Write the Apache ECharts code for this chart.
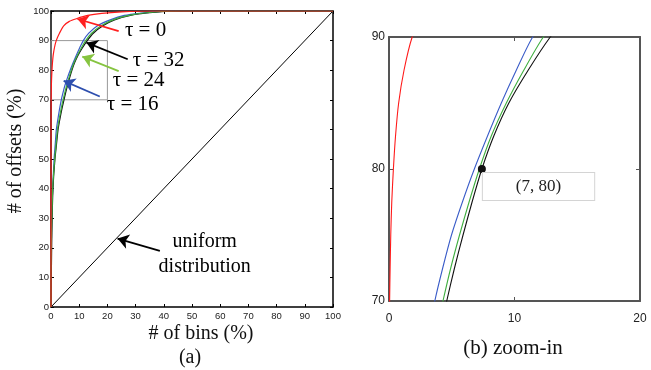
<!DOCTYPE html>
<html><head><meta charset="utf-8">
<script src="https://cdn.jsdelivr.net/npm/echarts@6/dist/echarts.min.js"></script>
<style>html,body{margin:0;padding:0;background:#fff}#c{width:651px;height:370px}</style>
</head><body><div id="c"></div>
<script>
// CDF curves: [bins %, offsets %]
var tau0 = [[0,0],[0,10],[0.02,60],[0.03,65],[0.05,70],[0.09,72.5],[0.14,75],[0.22,77.5],[0.35,80],[0.52,82.5],[0.77,85],[1.2,87.5],[1.85,90],[3.0,92.5],[4.5,95],[6.5,96.5],[9,97.4],[13,98.5],[18,99.2],[25,99.7],[35,100],[100,100]];
var tau16 = [[0,0],[0.1,20],[0.4,35],[0.7,42],[1.1,50],[1.5,55],[1.9,60],[2.28,62.5],[2.7,65],[3.15,67.5],[3.65,70],[4.28,72.5],[4.98,75],[5.85,77.5],[6.8,80],[7.85,82.5],[8.95,85],[10.15,87.5],[11.45,90],[13.4,92.5],[16.5,95],[21,97],[26,98.5],[32,99.3],[38,99.8],[43,100],[100,100]];
var tau24 = [[0,0],[0,10],[0.2,25],[0.6,40],[1.3,50],[1.8,55],[2.3,60],[2.72,62.5],[3.2,65],[3.72,67.5],[4.3,70],[4.92,72.5],[5.62,75],[6.38,77.5],[7.2,80],[8.15,82.5],[9.35,85],[10.75,87.5],[12.3,90],[14.4,92.5],[17.8,95],[22,97],[28,98.6],[35,99.5],[46,100],[100,100]];
var tau32 = [[0,0],[0.3,25],[0.7,40],[1.4,50],[1.95,55],[2.5,60],[2.95,62.5],[3.45,65],[4.0,67.5],[4.6,70],[5.22,72.5],[5.9,75],[6.62,77.5],[7.4,80],[8.35,82.5],[9.55,85],[11.1,87.5],[12.85,90],[15,92.5],[18.4,95],[22.5,97],[28.5,98.6],[36,99.5],[47,100],[100,100]];
var uniform = [[0,0],[100,100]];
var zoomBox = [[0,70],[20,70],[20,90],[0,90],[0,70]];
var highlightPoint = [7.4, 80];
var highlightText = '(7, 80)';
var xTicksA = [0,100,10], yTicksA = [0,100,10];
var xTicksB = [0,20,10], yTicksB = [70,90,10];

var colors = {red:'#ff1a1a', blue:'#3a5cc8', green:'#3fae3f', black:'#111', arrowGreen:'#86c440'};

// annotation arrows (data coords, tail -> tip)
var arrows = [
  {from:[24.0,93.2], to:[9.4,97.3], color:'#ff2020'},
  {from:[27.2,83.7], to:[12.6,89.3], color:'#000'},
  {from:[24.0,79.7], to:[11.1,84.6], color:colors.arrowGreen},
  {from:[17.3,71.1], to:[4.5,76.4], color:'#2e4fae'},
  {from:[38.6,19.0], to:[23.6,23.1], color:'#000'}
];
var notes = [
  {pos:[26.2,93.4], text:'τ = 0', align:'left'},
  {pos:[29.0,83.4], text:'τ = 32', align:'left'},
  {pos:[21.9,76.6], text:'τ = 24', align:'left'},
  {pos:[19.8,68.4], text:'τ = 16', align:'left'},
  {pos:[54.5,22.0], text:'uniform', align:'center'},
  {pos:[54.5,13.6], text:'distribution', align:'center'}
];

var serif = '"Liberation Serif", "Times New Roman", serif';
var sans = '"Liberation Sans", Arial, sans-serif';

function mkX(grid, t, pos, labels, lc, lw, fs, margin, tl) {
  return {type:'value', gridIndex:grid, position:pos, min:t[0], max:t[1], interval:t[2],
    axisLine:{show:true, onZero:false, lineStyle:{color:lc, width:lw}},
    axisTick:{show:true, inside:true, length:tl, lineStyle:{color:lc, width:1}},
    axisLabel:{show:labels, fontFamily:sans, fontSize:fs, color:'#222', margin:margin},
    splitLine:{show:false}};
}
var xAxes = [
  mkX(0,xTicksA,'bottom',true,'#000',1.5,9.5,4,3),
  mkX(0,xTicksA,'top',false,'#000',1.5,9.5,4,3),
  mkX(1,xTicksB,'bottom',true,'#555',2,12,12,4),
  mkX(1,xTicksB,'top',false,'#555',2,12,12,4)
];
var yAxes = [
  mkX(0,yTicksA,'left',true,'#000',1.5,9.5,2,3),
  mkX(0,yTicksA,'right',false,'#000',1.5,9.5,2,3),
  mkX(1,yTicksB,'left',true,'#555',2,12,4,4),
  mkX(1,yTicksB,'right',false,'#555',2,12,4,4)
];

function curve(name, data, color, g, w) {
  return {type:'line', name:name, data:data, xAxisIndex:g*2, yAxisIndex:g*2, showSymbol:false, symbol:'none',
    smooth:0.25, clip:true, lineStyle:{color:color, width:w}, silent:true, animation:false, z:3};
}

var series = [
  {type:'line', data:uniform, xAxisIndex:0, yAxisIndex:0, symbol:'none', lineStyle:{color:'#000', width:1}, z:3, animation:false},
  {type:'line', data:zoomBox, xAxisIndex:0, yAxisIndex:0, symbol:'none', lineStyle:{color:'#999', width:1}, z:2, animation:false},
  curve('τ=16', tau16, colors.blue, 0, 1.2),
  curve('τ=32', tau32, colors.black, 0, 1.2),
  curve('τ=24', tau24, colors.green, 0, 1.2),
  curve('τ=0', tau0, colors.red, 0, 1.2),
  curve('τ=0', tau0, colors.red, 1, 1.1),
  curve('τ=16', tau16, colors.blue, 1, 1.1),
  curve('τ=24', tau24, colors.green, 1, 1.1),
  curve('τ=32', tau32, colors.black, 1, 1.1),
  {type:'lines', coordinateSystem:'cartesian2d', xAxisIndex:0, yAxisIndex:0, z:5, animation:false,
    symbol:['none','arrow'], symbolSize:11,
    data: arrows.map(function(a){return {coords:[a.from, a.to], lineStyle:{color:a.color, width:1.8, opacity:1}};}),
    lineStyle:{width:1.8, opacity:1}},
  {type:'scatter', xAxisIndex:0, yAxisIndex:0, symbolSize:0, z:6, animation:false, itemStyle:{opacity:1},
    data: notes.map(function(n){return {value:n.pos, label:{show:true, formatter:n.text, position:'inside', align:n.align, verticalAlign:'middle',
      fontFamily:serif, fontSize: n.text.indexOf('τ')===0 ? 21 : 20, color:'#000', opacity:1}};})},
  {type:'scatter', xAxisIndex:2, yAxisIndex:2, symbolSize:8, z:6, animation:false,
    itemStyle:{color:'#111', opacity:1},
    data:[{value:highlightPoint, label:{show:true, formatter:highlightText, position:[5,8], align:'left', verticalAlign:'top',
      fontFamily:serif, fontSize:17, lineHeight:19, color:'#222', backgroundColor:'#fff', borderColor:'#d4d4d4', borderWidth:1,
      padding:[4,33,4,33]}}]}
];

var chart = echarts.init(document.getElementById('c'), null, {renderer:'canvas'});
chart.setOption({
  animation:false,
  backgroundColor:'#fff',
  grid:[{left:51, top:11, width:282, height:296}, {left:389, top:37, width:251, height:264}],
  xAxis:xAxes, yAxis:yAxes, series:series,
  graphic:[
    {type:'text', x:201, y:334, style:{text:'# of bins (%)', font:'20px '+serif, fill:'#111', textAlign:'center', textVerticalAlign:'middle'}},
    {type:'text', x:190, y:358, style:{text:'(a)', font:'20px '+serif, fill:'#111', textAlign:'center', textVerticalAlign:'middle'}},
    {type:'text', x:16, y:151, rotation:Math.PI/2, style:{text:'# of offsets (%)', font:'20px '+serif, fill:'#111', textAlign:'center', textVerticalAlign:'middle'}},
    {type:'text', x:513, y:348, style:{text:'(b) zoom-in', font:'21px '+serif, fill:'#111', textAlign:'center', textVerticalAlign:'middle'}}
  ]
});
</script></body></html>
